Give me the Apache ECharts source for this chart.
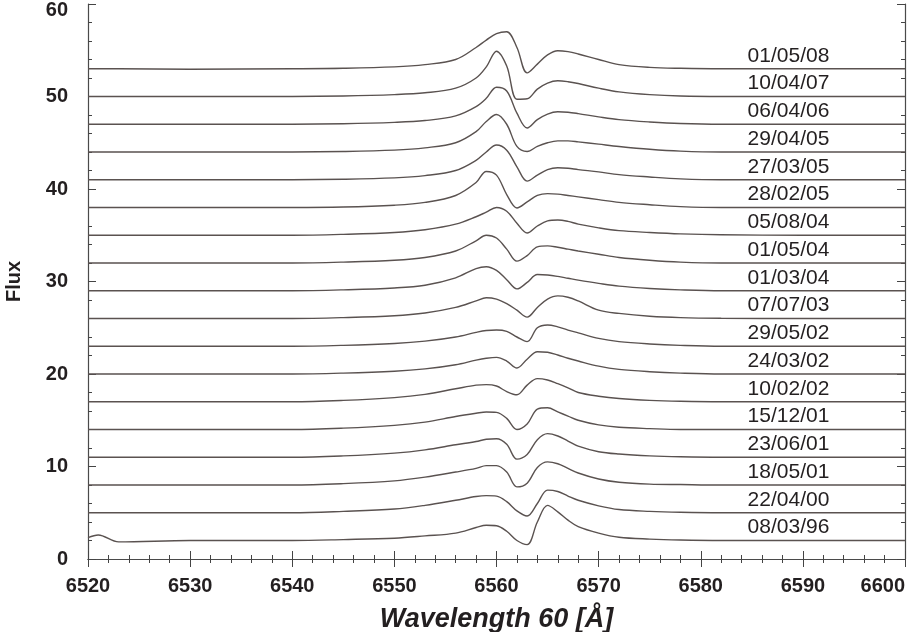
<!DOCTYPE html>
<html>
<head>
<meta charset="utf-8">
<script src="https://cdn.jsdelivr.net/npm/echarts@6/dist/echarts.min.js"></script>
<style>
    html, body { margin: 0; padding: 0; background: #fff; }
    #chart { width: 921px; height: 632px; }
</style>
</head>
<body>
<div id="chart"></div>
<script>
// wavelength grid (Å)
var wavelength = [6520, 6521, 6523, 6530, 6540, 6545, 6550, 6553, 6556, 6558, 6559, 6560, 6561, 6562,
    6563, 6564, 6565, 6566, 6567, 6568, 6570, 6572, 6575, 6578, 6582, 6590, 6600];

// observation dates, top to bottom, and the vertical shift of each spectrum
var dates = ['01/05/08', '10/04/07', '06/04/06', '29/04/05', '27/03/05', '28/02/05', '05/08/04', '01/05/04', '01/03/04',
    '07/07/03', '29/05/02', '24/03/02', '10/02/02', '15/12/01', '23/06/01', '18/05/01', '22/04/00', '08/03/96'];
var offsets = [53, 50, 47, 44, 41, 38, 35, 32, 29, 26, 23, 20, 17, 14, 11, 8, 5, 2];

// flux above each spectrum's continuum
var flux_010508 = [0, 0, 0, -0.05, 0, 0.05, 0.2, 0.45, 1.0, 2.3, 3.1, 3.8, 4.0, 2.3, -0.45, 0.5, 1.5, 1.95, 1.85, 1.6, 1.0, 0.45, 0.15, 0.05, 0, 0, 0];
var flux_100407 = [0, 0, 0, 0, 0, 0.05, 0.2, 0.4, 0.9, 2.0, 3.2, 4.9, 3.3, -0.3, -0.25, 0.8, 1.45, 1.7, 1.6, 1.4, 0.9, 0.5, 0.2, 0.05, 0, 0, 0];
var flux_060406 = [0, 0, 0, 0, 0, 0.05, 0.2, 0.4, 0.9, 1.9, 2.8, 4.0, 3.6, 1.2, -0.4, 0.5, 1.1, 1.35, 1.3, 1.15, 0.8, 0.5, 0.25, 0.08, 0, 0, 0];
var flux_290405 = [0, 0, 0, 0, 0, 0.05, 0.2, 0.45, 1.0, 2.2, 3.3, 4.05, 3.0, 0.6, 0.05, 0.6, 1.0, 1.2, 1.2, 1.1, 0.85, 0.6, 0.3, 0.1, 0, 0, 0];
var flux_270305 = [0, 0, 0, 0, 0, 0.05, 0.2, 0.45, 1.0, 2.1, 3.0, 3.75, 3.2, 1.4, -0.15, 0.5, 1.1, 1.3, 1.25, 1.1, 0.85, 0.55, 0.3, 0.1, 0, 0, 0];
var flux_280205 = [0, 0, 0, 0, 0, 0.05, 0.25, 0.55, 1.3, 2.7, 3.9, 3.5, 1.4, -0.05, 0.6, 1.3, 1.5, 1.45, 1.3, 1.15, 0.85, 0.55, 0.3, 0.1, 0, 0, 0];
var flux_050804 = [0, 0, 0, 0, 0, 0.1, 0.3, 0.6, 1.2, 2.0, 2.5, 3.0, 2.6, 1.3, 0.25, 1.0, 1.55, 1.65, 1.5, 1.2, 0.8, 0.5, 0.3, 0.15, 0.05, 0, 0];
var flux_010504 = [0, 0, 0, 0, 0, 0.1, 0.3, 0.6, 1.3, 2.4, 3.0, 2.7, 1.5, 0.2, 0.8, 1.75, 1.85, 1.7, 1.5, 1.3, 0.95, 0.6, 0.3, 0.1, 0, 0, 0];
var flux_010304 = [0, 0, 0, 0, 0, 0.1, 0.3, 0.6, 1.4, 2.4, 2.6, 2.2, 1.2, 0.2, 0.9, 1.75, 1.7, 1.55, 1.35, 1.15, 0.8, 0.5, 0.25, 0.1, 0, 0, 0];
var flux_070703 = [0, 0, 0, 0, 0, 0.1, 0.3, 0.6, 1.2, 1.9, 2.25, 2.1, 1.6, 0.9, 0.15, 1.2, 2.1, 2.45, 2.3, 1.9, 0.9, 0.55, 0.25, 0.1, 0.03, 0, 0];
var flux_290502 = [0, 0, 0, 0, 0, 0.1, 0.3, 0.55, 1.0, 1.5, 1.7, 1.75, 1.6, 1.0, 0.5, 2.0, 2.3, 2.1, 1.75, 1.45, 0.85, 0.5, 0.25, 0.1, 0, 0, 0];
var flux_240302 = [0, 0, 0, 0, 0, 0.1, 0.3, 0.55, 1.0, 1.5, 1.7, 1.8, 1.4, 0.65, 1.6, 2.4, 2.35, 2.05, 1.7, 1.4, 0.85, 0.5, 0.25, 0.1, 0, 0, 0];
var flux_100202 = [0, 0, 0, 0, 0, 0.15, 0.45, 0.8, 1.4, 1.8, 1.85, 1.7, 1.1, 0.75, 1.8, 2.5, 2.35, 1.95, 1.5, 1.0, 0.6, 0.35, 0.15, 0.05, 0, 0, 0];
var flux_151201 = [0, 0, 0, 0, 0, 0.15, 0.45, 0.8, 1.4, 1.75, 1.9, 1.85, 1.2, 0.0, 0.6, 2.2, 2.35, 1.9, 1.45, 1.0, 0.5, 0.25, 0.1, 0, 0, 0, 0];
var flux_230601 = [0, 0, 0, 0, 0, 0.15, 0.45, 0.8, 1.35, 1.7, 1.95, 2.0, 1.4, -0.2, 0.3, 1.9, 2.55, 2.3, 1.75, 1.2, 0.6, 0.35, 0.15, 0.05, 0, 0, 0];
var flux_180501 = [0, 0, 0, 0, 0, 0.15, 0.45, 0.85, 1.4, 1.8, 2.1, 2.1, 1.4, -0.2, 0.2, 1.9, 2.5, 2.3, 1.8, 1.3, 0.65, 0.3, 0.1, 0.05, 0, 0, 0];
var flux_220400 = [0, 0, 0, 0, 0, 0.15, 0.4, 0.8, 1.35, 1.75, 1.85, 1.8, 1.2, 0.2, -0.35, 1.0, 2.45, 2.3, 1.8, 1.35, 0.75, 0.35, 0.15, 0.05, 0, 0, 0];
var flux_080396 = [0.3, 0.6, -0.15, 0, 0, 0.1, 0.25, 0.5, 0.8, 1.4, 1.65, 1.6, 1.0, 0.0, -0.45, 2.0, 3.8, 3.1, 2.2, 1.5, 0.8, 0.35, 0.15, 0.05, 0, 0, 0];

var profiles = [flux_010508, flux_100407, flux_060406, flux_290405, flux_270305, flux_280205, flux_050804, flux_010504, flux_010304,
    flux_070703, flux_290502, flux_240302, flux_100202, flux_151201, flux_230601, flux_180501, flux_220400, flux_080396];

var xTicks = [6520, 6600, 10];
var yTicks = [0, 60, 10];

var fontName = 'Liberation Sans, Arial, sans-serif';
var lineColor = '#5a5250';

var myChart = echarts.init(document.getElementById('chart'));

var seriesList = [];
for (var i = 0; i < profiles.length; i++) {
    var points = [];
    for (var k = 0; k < wavelength.length; k++) {
        points.push([wavelength[k], profiles[i][k] + offsets[i]]);
    }
    seriesList.push({
        type: 'line',
        name: dates[i],
        data: points,
        smooth: 0.35,
        symbol: 'none',
        lineStyle: { color: lineColor, width: 1.4 },
        markPoint: {
            symbol: 'rect',
            symbolSize: 1,
            itemStyle: { color: 'rgba(0,0,0,0)' },
            label: {
                show: true,
                position: 'inside',
                align: 'left',
                verticalAlign: 'middle',
                offset: [0, -13],
                formatter: '{b}',
                fontFamily: fontName,
                fontSize: 21,
                color: '#231f20',
                backgroundColor: '#fff',
                padding: [1, 30, 1, 5]
            },
            data: [{ name: dates[i], coord: [6584.1, offsets[i]] }]
        }
    });
}

var axisLineStyle = { color: '#4a4a4a', width: 1.2 };
var tickStyle = { color: '#444', width: 1 };
var tickFont = { fontFamily: fontName, fontSize: 20, fontWeight: 'bold', color: '#231f20' };

var option = {
    animation: false,
    backgroundColor: '#fff',
    grid: { left: 88, right: 16, top: 4, bottom: 73, outerBoundsMode: 'none' },
    xAxis: [{
        type: 'value',
        min: xTicks[0],
        max: xTicks[1],
        interval: xTicks[2],
        name: 'Wavelength 60 [Å]',
        nameLocation: 'middle',
        nameGap: 47,
        nameTextStyle: { fontFamily: fontName, fontSize: 27, fontWeight: 'bold', fontStyle: 'italic', color: '#231f20' },
        axisLine: { lineStyle: axisLineStyle },
        axisTick: { inside: true, length: 8, lineStyle: tickStyle },
        minorTick: { show: true, splitNumber: 5, length: 4, lineStyle: tickStyle },
        axisLabel: {
            margin: 17, fontFamily: fontName, fontSize: 20, fontWeight: 'bold', color: '#231f20', alignMaxLabel: 'right',
            formatter: function (v) { return String(v); }
        },
        splitLine: { show: false }
    }, {
        type: 'value',
        position: 'top',
        min: xTicks[0],
        max: xTicks[1],
        interval: xTicks[2],
        axisLine: { lineStyle: axisLineStyle },
        axisTick: { inside: true, length: 8, lineStyle: tickStyle },
        minorTick: { show: true, splitNumber: 5, length: 4, lineStyle: tickStyle },
        axisLabel: { show: false },
        splitLine: { show: false }
    }],
    yAxis: [{
        type: 'value',
        min: yTicks[0],
        max: yTicks[1],
        interval: yTicks[2],
        name: 'Flux',
        nameLocation: 'middle',
        nameGap: 64,
        nameTextStyle: { fontFamily: fontName, fontSize: 20, fontWeight: 'bold', color: '#231f20' },
        axisLine: { show: true, lineStyle: axisLineStyle },
        axisTick: { show: true, inside: true, length: 8, lineStyle: tickStyle },
        minorTick: { show: true, splitNumber: 5, length: 4, lineStyle: tickStyle },
        axisLabel: {
            margin: 20, fontFamily: fontName, fontSize: 20, fontWeight: 'bold', color: '#231f20',
            formatter: function (v) { return v === yTicks[1] ? '{top|' + v + '}' : String(v); },
            rich: { top: { padding: [12, 0, 0, 0], fontFamily: fontName, fontSize: 20, fontWeight: 'bold', color: '#231f20' } }
        },
        splitLine: { show: false }
    }, {
        type: 'value',
        position: 'right',
        min: yTicks[0],
        max: yTicks[1],
        interval: yTicks[2],
        axisLine: { show: true, lineStyle: axisLineStyle },
        axisTick: { show: true, inside: true, length: 8, lineStyle: tickStyle },
        minorTick: { show: true, splitNumber: 5, length: 4, lineStyle: tickStyle },
        axisLabel: { show: false },
        splitLine: { show: false }
    }],
    series: seriesList
};
myChart.setOption(option);
</script>
</body>
</html>
